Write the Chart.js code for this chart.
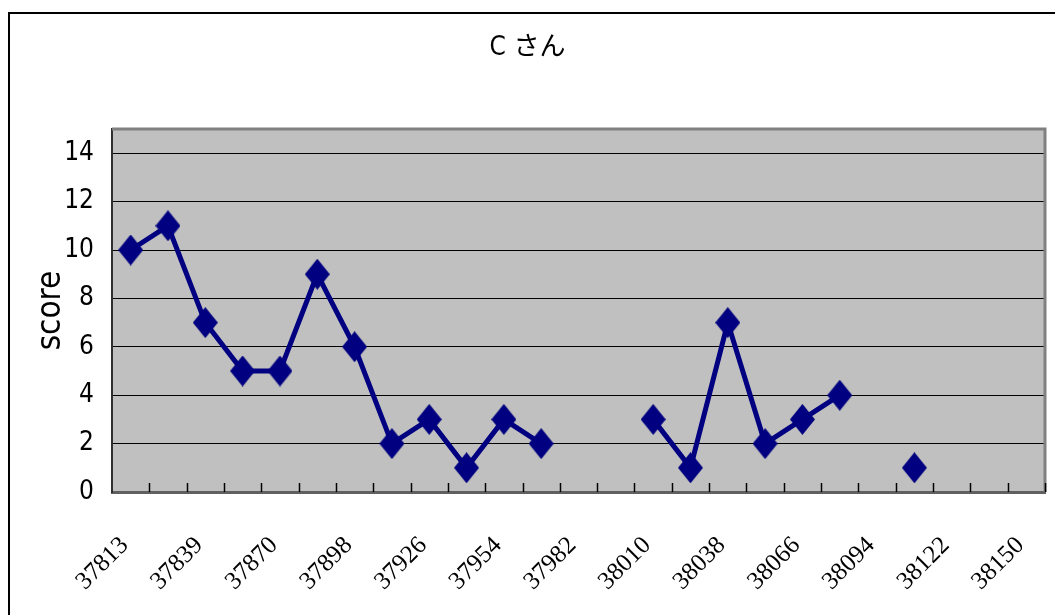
<!DOCTYPE html>
<html>
<head>
<meta charset="utf-8">
<script src="https://cdn.jsdelivr.net/npm/chart.js@4"></script>
<style>
  body { margin: 0; background: #fff; }
</style>
</head>
<body>
<canvas id="chart" width="1055" height="615"></canvas>
<script>
// dates (Excel serials), one per category; only every other one is labelled
const categories = ['37813', '37826', '37839', '37855', '37870', '37884', '37898', '37912', '37926',
  '37940', '37954', '37968', '37982', '37996', '38010', '38024', '38038', '38052', '38066',
  '38080', '38094', '38108', '38122', '38136', '38150'];
const scores = [10, 11, 7, 5, 5, 9, 6, 2, 3, 1, 3, 2, null, null, 3, 1, 7, 2, 3, 4, null, 1, null, null, null];
const yTicks = [0, 2, 4, 6, 8, 10, 12, 14];

const narrow = '"Liberation Sans Narrow", "DejaVu Sans Condensed", sans-serif';

// diamond marker, a bit taller than wide
const makeDiamond = () => {
    const c = document.createElement('canvas');
    c.width = 25;
    c.height = 31;
    const g = c.getContext('2d');
    g.fillStyle = '#000080';
    g.beginPath();
    g.moveTo(12.5, 0);
    g.lineTo(25, 15.5);
    g.lineTo(12.5, 31);
    g.lineTo(0, 15.5);
    g.closePath();
    g.fill();
    return c;
};

const plotFrame = {
    id: 'plotFrame',
    beforeDraw(chart) {
        const ctx = chart.ctx;
        const a = chart.chartArea;
        ctx.save();
        ctx.fillStyle = '#C0C0C0';
        ctx.fillRect(a.left, a.top, a.right - a.left, a.bottom - a.top);
        // outer chart border (top and left only, the rest is off the page)
        ctx.strokeStyle = '#000';
        ctx.lineWidth = 2;
        ctx.beginPath();
        ctx.moveTo(9, 615);
        ctx.lineTo(9, 13);
        ctx.lineTo(1055, 13);
        ctx.stroke();
        ctx.restore();
    },
    beforeDatasetsDraw(chart) {
        const ctx = chart.ctx;
        const a = chart.chartArea;
        const x = chart.scales.x;
        ctx.save();
        ctx.strokeStyle = '#808080';
        ctx.lineWidth = 3;
        ctx.beginPath();
        ctx.moveTo(a.left, a.top);
        ctx.lineTo(a.right, a.top);
        ctx.lineTo(a.right, a.bottom);
        ctx.stroke();
        // tick marks pointing into the plot, at the category boundaries
        ctx.strokeStyle = '#000';
        ctx.lineWidth = 1.5;
        ctx.beginPath();
        for (let i = 1; i <= categories.length; i++) {
            const px = i < categories.length
                ? (x.getPixelForValue(i - 1) + x.getPixelForValue(i)) / 2
                : a.right;
            ctx.moveTo(Math.round(px) + 0.5, a.bottom);
            ctx.lineTo(Math.round(px) + 0.5, a.bottom - 9);
        }
        ctx.stroke();
        ctx.restore();
    }
};

new Chart(document.getElementById('chart').getContext('2d'), {
    type: 'line',
    data: {
        labels: categories,
        datasets: [{
            label: 'score',
            data: scores,
            borderColor: '#000080',
            backgroundColor: '#000080',
            borderWidth: 5,
            pointStyle: makeDiamond(),
            spanGaps: false,
            tension: 0
        }]
    },
    options: {
        responsive: false,
        animation: false,
        layout: {
            padding: { left: 10, right: 10, top: 0, bottom: 0 }
        },
        plugins: {
            legend: { display: false },
            tooltip: { enabled: false },
            title: {
                display: true,
                text: 'C さん',
                color: '#000',
                font: { family: '"DejaVu Sans Condensed", "Noto Sans CJK JP", sans-serif', size: 26, weight: 'normal' },
                padding: { top: 33, bottom: 64.8 }
            }
        },
        scales: {
            x: {
                offset: true,
                grid: { display: false, offset: true },
                border: { display: true, color: '#606060', width: 3 },
                afterFit: s => {
                    s.height = 123;
                    s.paddingLeft = 0;
                    s.paddingRight = 0;
                },
                ticks: {
                    autoSkip: false,
                    maxRotation: 45,
                    minRotation: 45,
                    padding: 31,
                    labelOffset: -6,
                    color: '#000',
                    font: { family: '"Liberation Serif", "DejaVu Serif", serif', size: 25 },
                    callback: (v, i) => (i % 2 === 0 ? categories[i] : '')
                }
            },
            y: {
                min: 0,
                max: 15,
                afterBuildTicks: s => { s.ticks = yTicks.map(v => ({ value: v })); },
                afterFit: s => { s.width = 102; },
                grid: { color: '#000', lineWidth: 1, drawTicks: false },
                border: { display: true, color: '#303030', width: 2 },
                ticks: {
                    padding: 18,
                    color: '#000',
                    font: { family: narrow, size: 26 }
                },
                title: {
                    display: true,
                    text: 'score',
                    color: '#000',
                    font: { family: narrow, size: 33 },
                    padding: { top: 22, bottom: 0 }
                }
            }
        }
    },
    plugins: [plotFrame]
});
</script>
</body>
</html>
